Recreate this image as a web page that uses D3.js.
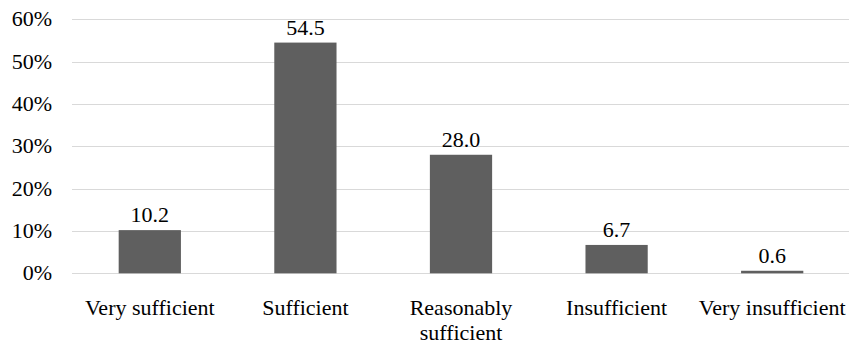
<!DOCTYPE html>
<html><head><meta charset="utf-8">
<script src="https://cdn.jsdelivr.net/npm/d3@7"></script>
</head><body style="margin:0">
<svg id="c" width="849" height="345"></svg>
<script>
const categories = ["Very sufficient", "Sufficient", "Reasonably sufficient", "Insufficient", "Very insufficient"];
const categoryLines = [["Very sufficient"], ["Sufficient"], ["Reasonably", "sufficient"], ["Insufficient"], ["Very insufficient"]];
const values = [10.2, 54.5, 28.0, 6.7, 0.6];
const yTicks = [0, 10, 20, 30, 40, 50, 60];

const svg = d3.select("#c");
const font = '"Times New Roman", "Liberation Serif", Tinos';
const fs = "22px";
const x = d3.scaleBand().domain(categories).range([72, 850]).paddingInner(0.6).paddingOuter(0.3);
const y = d3.scaleLinear().domain([0, 60]).range([273.3, 19.3]);

svg.append("g").selectAll("line").data(yTicks).join("line")
  .attr("x1", 72).attr("x2", 849)
  .attr("y1", d => Math.round(y(d)) + 0.5).attr("y2", d => Math.round(y(d)) + 0.5)
  .attr("stroke", "#d9d9d9").attr("stroke-width", 1);

svg.append("g").selectAll("rect").data(values).join("rect")
  .attr("x", (d, i) => x(categories[i])).attr("width", x.bandwidth())
  .attr("y", d => y(d)).attr("height", d => y(0) - y(d))
  .attr("fill", "#5f5f5f");

svg.selectAll("text.yt").data(yTicks).join("text").attr("class", "yt")
  .attr("x", 52).attr("y", d => y(d) + 7)
  .attr("text-anchor", "end").attr("fill", "#000")
  .style("font-family", font).style("font-size", fs)
  .text(d => d + "%");

svg.selectAll("text.vl").data(values).join("text").attr("class", "vl")
  .attr("x", (d, i) => x(categories[i]) + x.bandwidth() / 2)
  .attr("y", d => y(d) - 8)
  .attr("text-anchor", "middle").attr("fill", "#000")
  .style("font-family", font).style("font-size", fs)
  .text(d => d.toFixed(1));

svg.selectAll("text.xl").data(categories).join("text").attr("class", "xl")
  .attr("x", d => x(d) + x.bandwidth() / 2).attr("y", 314.5)
  .attr("text-anchor", "middle").attr("fill", "#000")
  .style("font-family", font).style("font-size", fs)
  .each(function(d, i) {
    d3.select(this).selectAll("tspan").data(categoryLines[i]).join("tspan")
      .attr("x", x(d) + x.bandwidth() / 2).attr("dy", (t, j) => j === 0 ? 0 : 25.5).text(t => t);
  });
</script>
</body></html>
